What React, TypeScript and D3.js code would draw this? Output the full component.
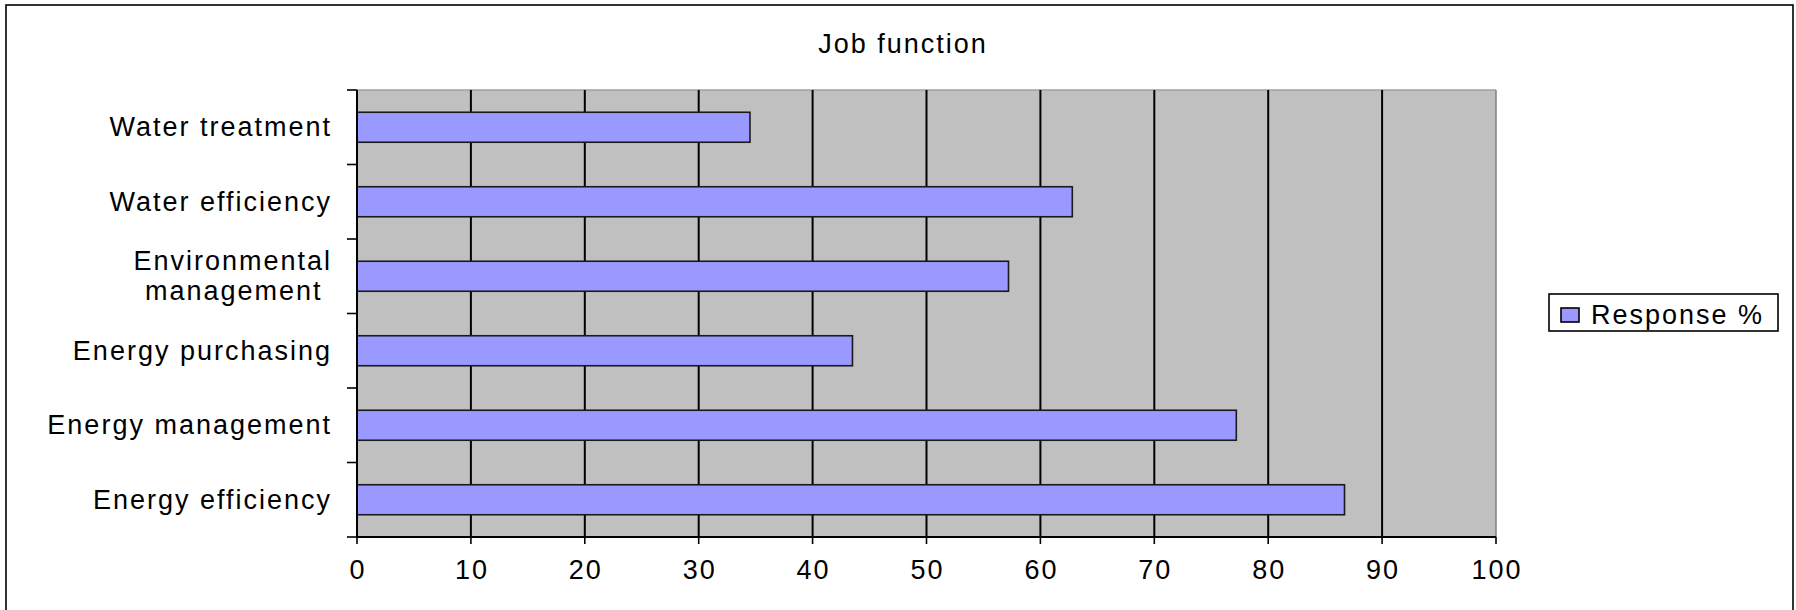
import React from "react";
import * as d3 from "d3";

const categories = [
  "Water treatment",
  "Water efficiency",
  "Environmental management",
  "Energy purchasing",
  "Energy management",
  "Energy efficiency",
];
const categoryLines = [
  ["Water treatment"],
  ["Water efficiency"],
  ["Environmental", "management "],
  ["Energy purchasing"],
  ["Energy management"],
  ["Energy efficiency"],
];
const responsePct = [34.5, 62.8, 57.2, 43.5, 77.2, 86.7];
const xTicks = [0, 10, 20, 30, 40, 50, 60, 70, 80, 90, 100];
const title = "Job function";
const seriesName = "Response %";

const W = 1796;
const H = 610;
const FONT = "'Liberation Sans', Arial, sans-serif";
const FS = 27;
const LS = 2;

export default function App() {
  const left = 357;
  const right = 1496;
  const top = 90;
  const bottom = 537;
  const x = d3.scaleLinear().domain([0, 100]).range([left, right]);
  const p = (74.5 - 30) / 74.5;
  const y = d3
    .scaleBand<string>()
    .domain(categories)
    .range([top, bottom])
    .paddingInner(p)
    .paddingOuter(p / 2);
  const step = y.step();
  const boundaries = d3.range(categories.length + 1).map((i) => top + i * step);

  return (
    <svg
      width={W}
      height={H}
      style={{ position: "absolute", left: 0, top: 0, background: "#fff" }}
      fontFamily={FONT}
    >
      <rect x={6} y={5} width={1787} height={640} fill="#fff" stroke="#000" strokeWidth={1.6} />
      <text
        x={902 + LS / 2}
        y={44}
        textAnchor="middle"
        dominantBaseline="central"
        fontSize={FS}
        letterSpacing={LS}
        fill="#000"
      >
        {title}
      </text>

      {/* plot area */}
      <rect x={left} y={top} width={right - left} height={bottom - top} fill="#C0C0C0" />
      <line x1={left} x2={right} y1={top} y2={top} stroke="#a0a0a0" strokeWidth={1.5} />
      <line x1={right} x2={right} y1={top} y2={bottom} stroke="#808080" strokeWidth={1.5} />

      {/* gridlines */}
      {xTicks.slice(1, -1).map((t) => (
        <line key={t} x1={x(t)} x2={x(t)} y1={top} y2={bottom} stroke="#000" strokeWidth={2} />
      ))}

      {/* bars */}
      {categories.map((c, i) => (
        <rect
          key={c}
          x={x(0)}
          y={y(c)!}
          width={x(responsePct[i]) - x(0)}
          height={y.bandwidth()}
          fill="#9999FF"
          stroke="#1a1a1a"
          strokeWidth={1.6}
        />
      ))}

      {/* axes */}
      <line x1={left} x2={left} y1={top} y2={bottom} stroke="#000" strokeWidth={2} />
      <line x1={left} x2={right} y1={bottom} y2={bottom} stroke="#000" strokeWidth={2} />
      {boundaries.map((b, i) => (
        <line key={i} x1={left - 10} x2={left} y1={b} y2={b} stroke="#000" strokeWidth={1.6} />
      ))}
      {xTicks.map((t) => (
        <g key={t}>
          <line x1={x(t)} x2={x(t)} y1={bottom} y2={bottom + 7} stroke="#000" strokeWidth={1.6} />
          <text
            x={x(t) + LS / 2}
            y={570}
            textAnchor="middle"
            dominantBaseline="central"
            fontSize={FS}
            letterSpacing={LS}
            fill="#000"
          >
            {t}
          </text>
        </g>
      ))}

      {/* category labels */}
      {categories.map((c, i) => {
        const lines = categoryLines[i];
        const cy = y(c)! + y.bandwidth() / 2;
        const lh = 30;
        return lines.map((ln, j) => (
          <text
            key={c + j}
            x={330 + LS}
            y={cy + (j - (lines.length - 1) / 2) * lh}
            textAnchor="end"
            dominantBaseline="central"
            fontSize={FS}
            letterSpacing={LS}
            fill="#000"
            style={{ whiteSpace: "pre" }}
          >
            {ln}
          </text>
        ));
      })}

      {/* legend */}
      <rect x={1549} y={294} width={229} height={37} fill="#fff" stroke="#000" strokeWidth={1.6} />
      <rect x={1561} y={308} width={18} height={14} fill="#9999FF" stroke="#000" strokeWidth={1.6} />
      <text
        x={1591}
        y={315}
        dominantBaseline="central"
        fontSize={FS}
        letterSpacing={LS}
        fill="#000"
      >
        {seriesName}
      </text>
    </svg>
  );
}
